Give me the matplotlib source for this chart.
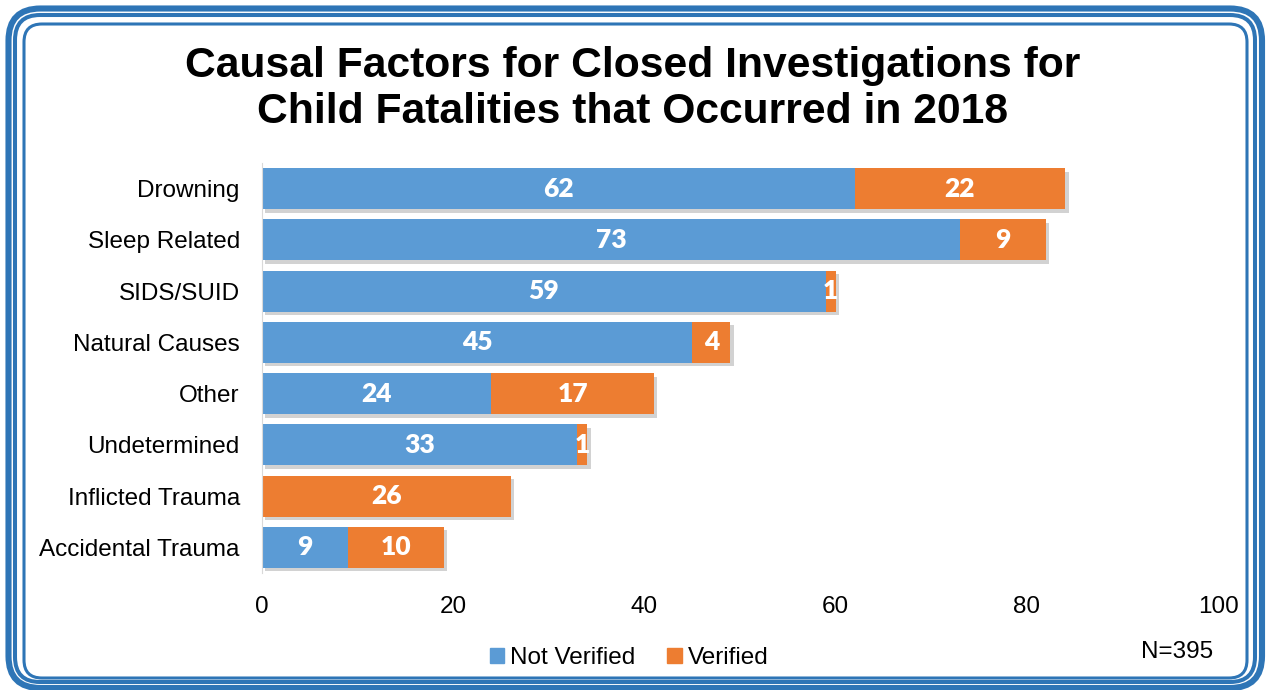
import matplotlib.pyplot as plt
import matplotlib.patheffects as pe
from matplotlib.patches import FancyBboxPatch, Patch
import numpy as np

# Data
categories = ["Drowning", "Sleep Related", "SIDS/SUID", "Natural Causes",
              "Other", "Undetermined", "Inflicted Trauma", "Accidental Trauma"]
not_verified = [62, 73, 59, 45, 24, 33, 0, 9]
verified = [22, 9, 1, 4, 17, 1, 26, 10]
x_ticks = [0, 20, 40, 60, 80, 100]

blue = "#5B9BD5"
orange = "#ED7D31"
frame = "#2E75B6"

plt.rcParams['font.family'] = ['Liberation Sans', 'DejaVu Sans']

fig = plt.figure(figsize=(12.67, 6.9), dpi=100)

# rounded triple frame drawn in pixel coordinates
bg = fig.add_axes([0, 0, 1, 1], zorder=0)
bg.set_xlim(0, 1267)
bg.set_ylim(690, 0)
bg.axis("off")
for (x0, y0, x1, y1, r, lw) in [(8.5, 8.5, 1262, 688, 32, 4.4),
                                (15, 15, 1255, 682, 25, 2.9),
                                (24, 24, 1247, 678, 18, 2.2)]:
    bg.add_patch(FancyBboxPatch((x0 + r, y0 + r), x1 - x0 - 2 * r, y1 - y0 - 2 * r,
                                boxstyle=f"round,pad={r},rounding_size={r}",
                                fill=False, edgecolor=frame, linewidth=lw))

ax = fig.add_axes([262 / 1267, 1 - 573 / 690, (1218 - 262) / 1267, (573 - 163) / 690], zorder=1)
ax.patch.set_alpha(0)

y = np.arange(len(categories))
shadow = [pe.SimplePatchShadow(offset=(2.5, -2.5), shadow_rgbFace="#7F7F7F", alpha=0.35), pe.Normal()]
b1 = ax.barh(y, not_verified, height=0.8, color=blue)
b2 = ax.barh(y, verified, left=not_verified, height=0.8, color=orange)
for bars in (b1, b2):
    for p in bars:
        if p.get_width() > 0:
            p.set_path_effects(shadow)

for i in range(len(categories)):
    if not_verified[i] > 0:
        ax.text(not_verified[i] / 2, i, str(not_verified[i]), ha="center", va="center",
                color="white", fontsize=19, fontweight="heavy", family="Lato")
    if verified[i] > 0:
        ax.text(not_verified[i] + verified[i] / 2, i, str(verified[i]), ha="center", va="center",
                color="white", fontsize=19, fontweight="heavy", family="Lato")

ax.set_ylim(len(categories) - 0.5, -0.5)
ax.set_xlim(0, 100)
ax.set_yticks(y)
ax.set_yticklabels(categories, fontsize=17.5)
ax.set_xticks(x_ticks)
ax.set_xticklabels([str(t) for t in x_ticks], fontsize=17.5)
ax.tick_params(axis="both", length=0)
ax.tick_params(axis="y", pad=16)
ax.tick_params(axis="x", pad=16.5)
for s in ["top", "right", "bottom"]:
    ax.spines[s].set_visible(False)
ax.spines["left"].set_color("#D9D9D9")

fig.text(0.499, 1 - 89 / 690, "Causal Factors for Closed Investigations for\nChild Fatalities that Occurred in 2018",
         ha="center", va="center", fontsize=30.7, fontweight="bold", linespacing=1.2)

handles = [Patch(color=blue, label="Not Verified"), Patch(color=orange, label="Verified")]
fig.legend(handles=handles, loc="center", bbox_to_anchor=(629 / 1267, 1 - 658 / 690),
           ncol=2, frameon=False, fontsize=17.5, handlelength=0.6, handleheight=0.6,
           handletextpad=0.25, columnspacing=1.3)

fig.text(1213 / 1267, 1 - 652 / 690, "N=395", ha="right", va="center", fontsize=17.5)

fig.savefig("out.png", dpi=100)
